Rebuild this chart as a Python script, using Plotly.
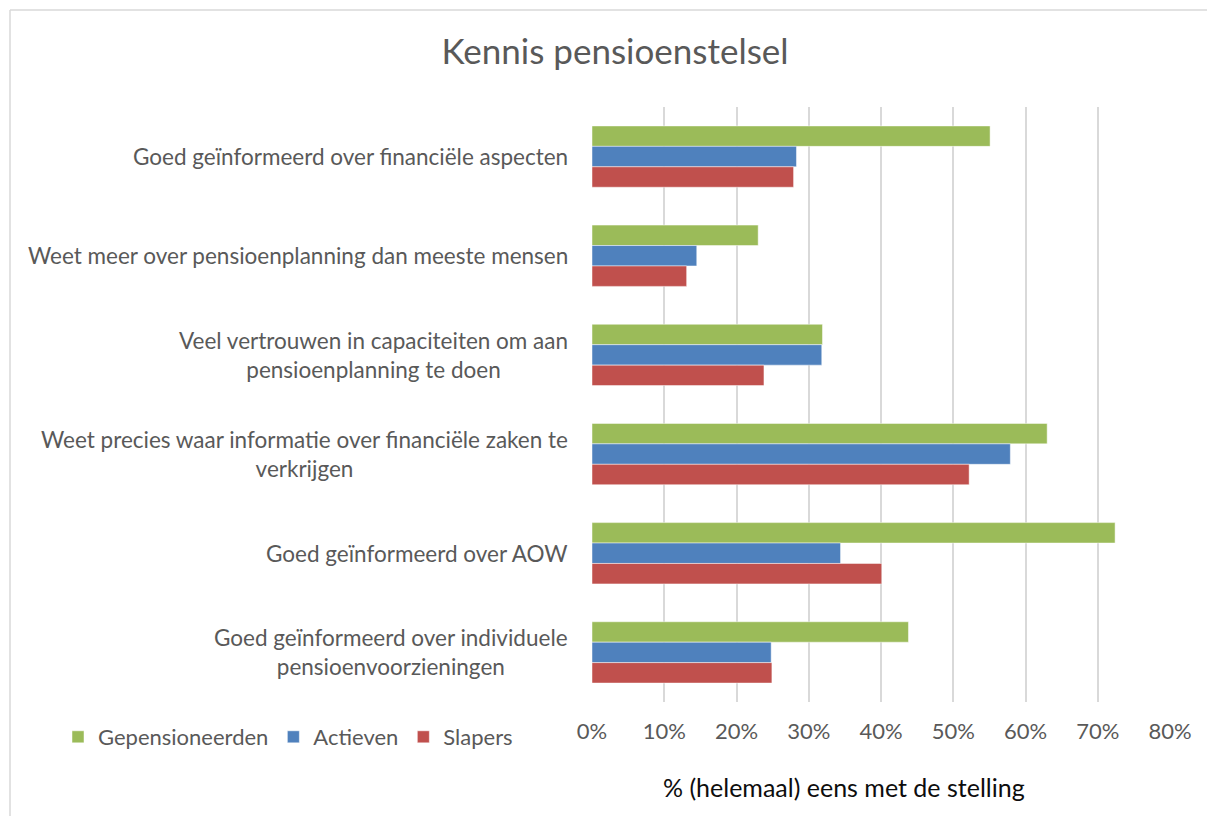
import plotly.graph_objects as go

categories = [
    "Goed geïnformeerd over financiële aspecten",
    "Weet meer over pensioenplanning dan meeste mensen",
    "Veel vertrouwen in capaciteiten om aan pensioenplanning te doen",
    "Weet precies waar informatie over financiële zaken te verkrijgen",
    "Goed geïnformeerd over AOW",
    "Goed geïnformeerd over individuele pensioenvoorzieningen",
]
category_labels = [
    "Goed geïnformeerd over financiële aspecten",
    "Weet meer over pensioenplanning dan meeste mensen",
    "Veel vertrouwen in capaciteiten om aan<br>pensioenplanning te doen",
    "Weet precies waar informatie over financiële zaken te<br>verkrijgen",
    "Goed geïnformeerd over AOW",
    "Goed geïnformeerd over individuele<br>pensioenvoorzieningen",
]
gepensioneerden = [55.1, 23.0, 31.9, 63.0, 72.4, 43.8]
actieven = [28.3, 14.5, 31.8, 57.9, 34.4, 24.8]
slapers = [27.9, 13.1, 23.8, 52.2, 40.1, 24.9]

series = [
    ("Gepensioneerden", gepensioneerden, "#9BBB59"),
    ("Actieven", actieven, "#4F81BD"),
    ("Slapers", slapers, "#C0504D"),
]

FONT = "Lato, Carlito, Calibri, sans-serif"
GREY = "#595959"

fig = go.Figure()
for name, vals, col in series:
    fig.add_trace(go.Bar(
        y=categories, x=vals, name=name, orientation="h",
        marker=dict(color=col, line=dict(color="rgba(255,255,255,0.6)", width=0.8)),
    ))

# page body has an 8px margin; target positions are in screen pixels
OFF = 8
W, H = 1215, 816
L, T = 592 - OFF, 107 - OFF
pw, ph = 578, 595
R, B = W - L - pw, H - T - ph

def px_x(p):
    return (p - OFF - L) / pw

def px_y(p):
    return (T + ph - (p - OFF)) / ph

annotations = []
for cat, lab in zip(categories, category_labels):
    annotations.append(dict(
        x=0, xref="paper", y=cat, yref="y", text=lab, showarrow=False,
        xanchor="right", yanchor="middle", align="center", xshift=-22,
        font=dict(family=FONT, size=22.5, color=GREY),
    ))
annotations.append(dict(
    x=px_x(844), xref="paper", y=px_y(787), yref="paper",
    text="% (helemaal) eens met de stelling", showarrow=False,
    xanchor="center", yanchor="middle",
    font=dict(family=FONT, size=25, color="#0d0d0d"),
))

fig.update_layout(
    width=W, height=H,
    margin=dict(l=L, r=R, t=T, b=B, autoexpand=False),
    paper_bgcolor="white", plot_bgcolor="white",
    barmode="group", bargap=0.382, bargroupgap=0,
    title=dict(text="Kennis pensioenstelsel", x=(615 - OFF) / W, xanchor="center",
               y=1 - (52 - OFF) / H, yanchor="middle",
               font=dict(family=FONT, size=35, color=GREY)),
    font=dict(family=FONT, size=22, color=GREY),
    xaxis=dict(range=[0, 80], dtick=10, ticksuffix="%", showgrid=True,
               gridcolor="#D9D9D9", gridwidth=1.5, zeroline=False,
               showline=False, ticks="", ticklabelstandoff=14,
               tickfont=dict(family=FONT, size=22, color=GREY), fixedrange=True),
    yaxis=dict(autorange="reversed", showticklabels=False, showgrid=False,
               zeroline=False, showline=False, ticks=""),
    legend=dict(orientation="h", x=px_x(58), xanchor="left", y=px_y(737),
                yanchor="middle", font=dict(family=FONT, size=22, color=GREY),
                itemwidth=30, traceorder="normal", bgcolor="rgba(0,0,0,0)"),
    annotations=annotations,
    shapes=[
        dict(type="line", xref="paper", yref="paper", x0=px_x(10), x1=px_x(10),
             y0=px_y(10), y1=px_y(840), line=dict(color="#D9D9D9", width=1.5)),
        dict(type="line", xref="paper", yref="paper", x0=px_x(10), x1=px_x(1240),
             y0=px_y(10), y1=px_y(10), line=dict(color="#D9D9D9", width=1.5)),
    ],
)

fig.write_html("out.html")
